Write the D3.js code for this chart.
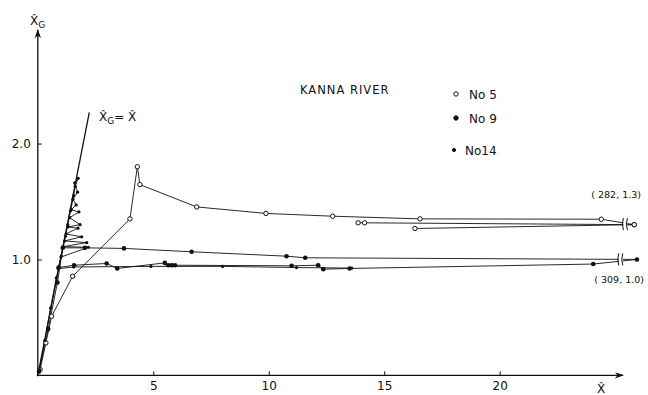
<!DOCTYPE html>
<html>
<head>
<meta charset="utf-8">
<script src="https://cdn.jsdelivr.net/npm/d3@7"></script>
<style>
  html, body { margin: 0; padding: 0; background: #fff; }
  svg { display: block; }
  text { font-family: "DejaVu Sans", "Liberation Sans", sans-serif; fill: #111; }
</style>
</head>
<body>
<svg id="chart" width="648" height="395"></svg>
<script>
// Flood-event trajectories, Kanna River (X̂ vs X̂_G)
const no5X = [0.10, 0.35, 0.60, 1.51, 3.99, 4.31, 4.42, 6.88, 9.88, 12.77, 16.55, 24.40, 282, 14.15, 13.87];
const no5Y = [0.05, 0.28, 0.51, 0.855, 1.35, 1.80, 1.646, 1.453, 1.397, 1.373, 1.35, 1.347, 1.30, 1.316, 1.316];
const no5bX = [282, 16.33];
const no5bY = [1.30, 1.267];

const no9X = [0.05, 0.45, 0.85, 1.08, 2.04, 3.73, 6.66, 10.77, 11.58, 309, 24.05, 13.50, 12.36, 12.14, 10.99, 5.94, 5.80, 5.65, 5.50, 3.44, 2.98, 1.57, 0.90];
const no9Y = [0.03, 0.40, 0.80, 1.10, 1.10, 1.095, 1.066, 1.028, 1.014, 1.00, 0.96, 0.922, 0.916, 0.95, 0.945, 0.95, 0.95, 0.95, 0.97, 0.922, 0.965, 0.95, 0.93];

const no14X = [0.08, 0.30, 0.55, 0.80, 1.02, 1.20, 1.30, 1.42, 1.55, 1.62, 1.75, 1.60, 1.72, 1.52, 1.66, 1.45, 1.78, 1.38, 1.83, 1.30, 1.74, 1.22, 1.90, 1.16, 2.12, 1.10, 2.19, 1.00, 0.88, 1.55, 4.90, 8.00, 11.20, 13.60];
const no14Y = [0.05, 0.30, 0.58, 0.84, 1.03, 1.20, 1.30, 1.42, 1.55, 1.63, 1.70, 1.66, 1.58, 1.52, 1.47, 1.43, 1.41, 1.36, 1.30, 1.28, 1.27, 1.22, 1.195, 1.16, 1.145, 1.11, 1.105, 1.02, 0.92, 0.935, 0.94, 0.94, 0.93, 0.925];

const identityX = [0, 2.23];
const identityY = [0, 2.27];

const xTicks = [5, 10, 15, 20];
const yTicks = [1.0, 2.0];
const farLabels = [{t: "( 282, 1.3)", x: 282, y: 1.3}, {t: "( 309, 1.0)", x: 309, y: 1.0}];
const breakPoints = [{x: 25.4, y: 1.305}, {x: 25.2, y: 1.0}];

const svg = d3.select("#chart");

// x axis is broken past ~25: values beyond are squeezed into the right margin
const x = d3.scaleLinear().domain([0, 25.6, 250, 350]).range([37.8, 629, 631, 641]);
const y = d3.scaleLinear().domain([0, 2.98]).range([375.3, 30]);

const zip = (xs, ys) => xs.map((v, i) => [v, ys[i]]);
const line = d3.line().x(d => x(d[0])).y(d => y(d[1]));

// axes
const gx = svg.append("g").attr("transform", `translate(0,${y(0)})`)
  .call(d3.axisBottom(x).tickValues(xTicks).tickSize(-4).tickPadding(6).tickFormat(d3.format("d")));
const gy = svg.append("g").attr("transform", `translate(${x(0)},0)`)
  .call(d3.axisLeft(y).tickValues(yTicks).tickSize(-4).tickPadding(7).tickFormat(d3.format(".1f")));
[gx, gy].forEach(g => {
  g.select(".domain").remove();
  g.selectAll("line").attr("stroke", "#111");
  g.selectAll("text").attr("font-size", 12).attr("fill", "#111");
});

svg.append("defs").append("marker")
  .attr("id", "arrow").attr("viewBox", "0 0 10 10").attr("refX", 9).attr("refY", 5)
  .attr("markerWidth", 7).attr("markerHeight", 7).attr("orient", "auto")
  .append("path").attr("d", "M0,1.5 L10,5 L0,8.5 L3,5 Z").attr("fill", "#111");

svg.append("line").attr("x1", x(0)).attr("x2", x(0)).attr("y1", y(0) + 1).attr("y2", 30)
  .attr("stroke", "#111").attr("stroke-width", 1.3).attr("marker-end", "url(#arrow)");
svg.append("line").attr("x1", x(0) - 1).attr("x2", 623).attr("y1", y(0)).attr("y2", y(0))
  .attr("stroke", "#111").attr("stroke-width", 1.3).attr("marker-end", "url(#arrow)");

// axis titles
const yt = svg.append("text").attr("x", 30).attr("y", 25).attr("font-size", 12);
yt.append("tspan").text("X\u0302");
yt.append("tspan").attr("font-size", 9).attr("dy", 3).text("G");
svg.append("text").attr("x", 597).attr("y", 393).attr("font-size", 12).text("X\u0302");

// identity line X̂_G = X̂
svg.append("path").datum(zip(identityX, identityY)).attr("d", line)
  .attr("fill", "none").attr("stroke", "#111").attr("stroke-width", 1.3);
const il = svg.append("text").attr("x", 99).attr("y", 121).attr("font-size", 12);
il.append("tspan").text("X\u0302");
il.append("tspan").attr("font-size", 9).attr("dy", 3).text("G");
il.append("tspan").attr("dy", -3).text("= X\u0302");

// series paths
const paths = [zip(no5X, no5Y), zip(no5bX, no5bY), zip(no9X, no9Y), zip(no14X, no14Y)];
svg.append("g").selectAll("path").data(paths).join("path")
  .attr("d", line).attr("fill", "none").attr("stroke", "#111").attr("stroke-width", 0.9);

// axis breaks on the long segments
const bg = svg.append("g").selectAll("g").data(breakPoints).join("g")
  .attr("transform", d => `translate(${x(d.x)},${y(d.y)})`);
bg.append("rect").attr("x", -1).attr("y", -6).attr("width", 4).attr("height", 12).attr("fill", "#fff");
bg.append("path").attr("d", "M-1,-6 Q-3,0 -1,6 M3,-6 Q1,0 3,6")
  .attr("fill", "none").attr("stroke", "#111").attr("stroke-width", 1);

// markers
svg.append("g").selectAll("circle").data(zip(no5X, no5Y).concat(zip(no5bX, no5bY))).join("circle")
  .attr("cx", d => x(d[0])).attr("cy", d => y(d[1])).attr("r", 2.2)
  .attr("fill", "#fff").attr("stroke", "#111").attr("stroke-width", 1);
svg.append("g").selectAll("circle").data(zip(no9X, no9Y)).join("circle")
  .attr("cx", d => x(d[0])).attr("cy", d => y(d[1])).attr("r", 2.3).attr("fill", "#111");
svg.append("g").selectAll("circle").data(zip(no14X, no14Y)).join("circle")
  .attr("cx", d => x(d[0])).attr("cy", d => y(d[1])).attr("r", 1.6).attr("fill", "#111");

// labels for the far points
svg.append("g").selectAll("text").data(farLabels).join("text")
  .attr("x", (d, i) => i === 0 ? 641 : 644).attr("y", (d, i) => i === 0 ? 198 : 283)
  .attr("text-anchor", "end").attr("font-size", 9.5).text(d => d.t);

// title and legend
svg.append("text").attr("x", 300).attr("y", 94).attr("font-size", 11.5)
  .attr("letter-spacing", 1).text("KANNA RIVER");
const legend = [
  {label: "No 5", cy: 94, kind: "open"},
  {label: "No 9", cy: 118, kind: "big"},
  {label: "No14", cy: 150, kind: "small"}
];
const lg = svg.append("g").selectAll("g").data(legend).join("g");
lg.append("circle").attr("cx", (d, i) => i === 2 ? 454 : 456).attr("cy", d => d.cy)
  .attr("r", d => d.kind === "small" ? 1.6 : 2.2)
  .attr("fill", d => d.kind === "open" ? "#fff" : "#111").attr("stroke", "#111").attr("stroke-width", 1);
lg.append("text").attr("x", (d, i) => i === 2 ? 465 : 469).attr("y", d => d.cy + 4.5)
  .attr("font-size", 12).text(d => d.label);
</script>
</body>
</html>
